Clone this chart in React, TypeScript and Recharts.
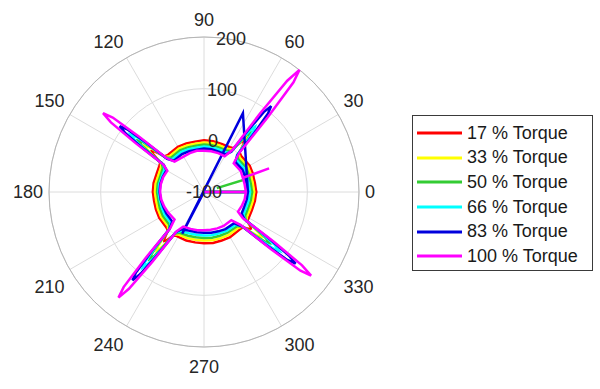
import React from 'react';
import {
  RadarChart,
  Radar,
  PolarGrid,
  PolarAngleAxis,
  PolarRadiusAxis,
  Legend
} from 'recharts';

// angle (deg) of every sample; the last three rows are a break + the blue jump
const angles = [
  0, 10, 17, 17, 17, 20, 20, 20, 30,
  44, 48, 49.5, 50.8, 52, 53.2, 54.5, 56, 60,
  70, 80, 90, 100, 110, 120,
  134, 138, 139.5, 140.8, 142, 143.2, 144.5, 146, 150,
  160, 170, 180, 190, 200, 210,
  223, 227, 228.5, 229.8, 231, 232.2, 233.5, 235, 239,
  250, 260, 270, 280, 290, 300,
  314, 318, 319.5, 320.8, 322, 323.2, 324.5, 326, 330,
  340, 350, 360,
  0, 242.4, 63.7
];

const torque17 = [
  1, 0, 0, 0, 0, 1, 1, 1, 2,
  0, 3, 13, 22, 25, 22, 12, 2, 0,
  -1, 0, 0, -1, 0, 1,
  0, 3, 14, 25, 28, 24, 13, 2, 0,
  -2, -1, -1, -2, -1, 0,
  0, 2, 11, 19, 22, 19, 11, 2, 0,
  0, -1, -1, 0, 0, 1,
  0, 2, 8, 13, 15, 13, 7, 1, 0,
  -1, 0, 1,
  null, null, null
];

const torque33 = [
  -3, -4, -4, -4, -4, -3, -3, -3, -2,
  -4, 0, 16, 30, 35, 30, 15, -1, -4,
  -5, -4, -4, -5, -4, -3,
  -4, 1, 21, 39, 45, 38, 20, 0, -4,
  -6, -5, -5, -6, -5, -4,
  -4, 1, 21, 39, 45, 38, 20, 0, -4,
  -5, -6, -6, -5, -5, -4,
  -4, 0, 18, 35, 40, 34, 17, -1, -4,
  -5, -4, -3,
  null, null, null
];

const torque50 = [
  -7, -8, -8, -74, -8, -7, -7, -7, -6,
  -8, -3, 19, 39, 45, 38, 17, -4, -8,
  -9, -8, -8, -9, -8, -7,
  -8, -1, 27, 53, 61, 51, 25, -2, -8,
  -10, -9, -9, -10, -9, -8,
  -8, -1, 29, 57, 66, 56, 28, -2, -8,
  -10, -11, -11, -10, -10, -9,
  -8, -1, 26, 52, 60, 50, 25, -3, -8,
  -9, -8, -7,
  null, null, null
];

const torque66 = [
  -11, -12, -12, -12, -12, -11, -11, -11, -10,
  -12, -5, 24, 51, 60, 50, 23, -6, -12,
  -13, -12, -12, -13, -12, -11,
  -12, -3, 34, 69, 80, 67, 32, -5, -12,
  -13, -12, -12, -13, -13, -12,
  -12, -2, 38, 76, 88, 74, 36, -4, -12,
  -15, -16, -16, -15, -15, -13,
  -12, -2, 37, 73, 85, 71, 35, -4, -12,
  -13, -12, -11,
  null, null, null
];

const torque83 = [
  -15, -16, -16, -16, -16, -15, -15, -15, -14,
  -16, -3, 48, 96, 111, 93, 45, -6, -16,
  -17, -16, -16, -17, -16, -15,
  -16, -4, 46, 92, 107, 90, 43, -6, -16,
  -15, -14, -14, -15, -16, -16,
  -16, -2, 52, 104, 120, 101, 49, -5, -16,
  -20, -21, -21, -20, -19, -17,
  -16, 0, 55, 108, 125, 105, 52, -5, -16,
  -17, -16, -15,
  null, -9, 70
];

const torque100 = [
  -19, -20, -20, -20, -20, -20, 34, -20, -18,
  -20, 2, 90, 174, 200, 169, 86, -2, -20,
  -20, -20, -20, -19, -20, -21,
  -18, -1, 65, 128, 148, 125, 62, -5, -18,
  -16, -15, -15, -16, -18, -20,
  -22, -4, 71, 141, 163, 137, 67, -7, -22,
  -24, -25, -26, -26, -25, -24,
  -24, -5, 70, 141, 163, 137, 66, -9, -24,
  -22, -20, -19,
  null, null, null
];

const angleTicks = [0, 30, 60, 90, 120, 150, 180, 210, 240, 270, 300, 330];
const radiusTicks = [-100, 0, 100, 200];

const series = [
  { key: 't17', name: '17 % Torque', color: '#ff0000', values: torque17 },
  { key: 't33', name: '33 % Torque', color: '#ffff00', values: torque33 },
  { key: 't50', name: '50 % Torque', color: '#33cc33', values: torque50 },
  { key: 't66', name: '66 % Torque', color: '#00ffff', values: torque66 },
  { key: 't83', name: '83 % Torque', color: '#0000dd', values: torque83 },
  { key: 't100', name: '100 % Torque', color: '#ff00ff', values: torque100 }
];

const data = angles.map((angle, i) => {
  const row: Record<string, number | null> = { angle };
  series.forEach((s) => {
    row[s.key] = s.values[i];
  });
  return row;
});

const FONT = '"Liberation Sans", Arial, sans-serif';

// matlab style: label sits outside the ring, anchored on the side facing the centre
const AngleTick = (props: any) => {
  const { x, y, payload } = props;
  const rad = (payload.value * Math.PI) / 180;
  const c = Math.cos(rad);
  const s = Math.sin(rad);
  const anchor = c > 0.01 ? 'start' : c < -0.01 ? 'end' : 'middle';
  const dy = s > 0.01 ? -5 : s < -0.01 ? 20 : 0;
  return (
    <text
      x={x}
      y={y}
      dy={dy}
      textAnchor={anchor}
      dominantBaseline={Math.abs(s) <= 0.01 ? 'central' : 'auto'}
      fontSize={18}
      fontFamily={FONT}
      fill="#262626"
    >
      {payload.value}
    </text>
  );
};

const RadiusTick = (props: any) => {
  const { x, y, payload } = props;
  return (
    <text x={x} y={y} textAnchor="middle" dominantBaseline="central" fontSize={18} fontFamily={FONT} fill="#262626">
      {payload.value}
    </text>
  );
};

const LegendBox = () => (
  <div
    style={{
      border: '1px solid #3a3a3a',
      background: '#fff',
      padding: '5px 0 1px 0',
      fontFamily: FONT,
      fontSize: 18,
      color: '#1a1a1a'
    }}
  >
    {series.map((s) => (
      <div key={s.key} style={{ display: 'flex', alignItems: 'center', height: 24.6 }}>
        <svg width={50} height={6} style={{ marginLeft: 4 }}>
          <line x1={0} y1={3} x2={45} y2={3} stroke={s.color} strokeWidth={3} />
        </svg>
        <span style={{ whiteSpace: 'nowrap' }}>{s.name}</span>
      </div>
    ))}
  </div>
);

export default function App() {
  return (
    <div style={{ position: 'absolute', left: 0, top: 0, width: 600, height: 389, background: '#fff' }}>
      <RadarChart
        width={600}
        height={389}
        data={data}
        cx={204}
        cy={192}
        innerRadius={0}
        outerRadius={155}
        startAngle={0}
        endAngle={360}
        margin={{ top: 0, right: 0, bottom: 0, left: 0 }}
      >
        <PolarGrid gridType="circle" stroke="#dcdcdc" strokeWidth={1} />
        <PolarGrid gridType="circle" polarRadius={[155]} polarAngles={[]} stroke="#b5b5b5" strokeWidth={1} />
        <PolarAngleAxis
          dataKey="angle"
          type="number"
          domain={[0, 360]}
          ticks={angleTicks}
          axisLine={false}
          tickLine={false}
          tickSize={6}
          tick={<AngleTick />}
        />
        <PolarRadiusAxis
          angle={80}
          type="number"
          domain={[-100, 200]}
          ticks={radiusTicks}
          orientation="middle"
          axisLine={false}
          tickLine={false}
          tick={<RadiusTick />}
        />
        {series.map((s) => (
          <Radar
            key={s.key}
            name={s.name}
            dataKey={s.key}
            stroke={s.color}
            strokeWidth={2.5}
            fill="none"
            fillOpacity={0}
            dot={false}
            isAnimationActive={false}
          />
        ))}
        <Legend
          layout="vertical"
          align="right"
          verticalAlign="middle"
          content={<LegendBox />}
          wrapperStyle={{ position: 'absolute', left: 412, top: 115, width: 181 }}
        />
      </RadarChart>
    </div>
  );
}
